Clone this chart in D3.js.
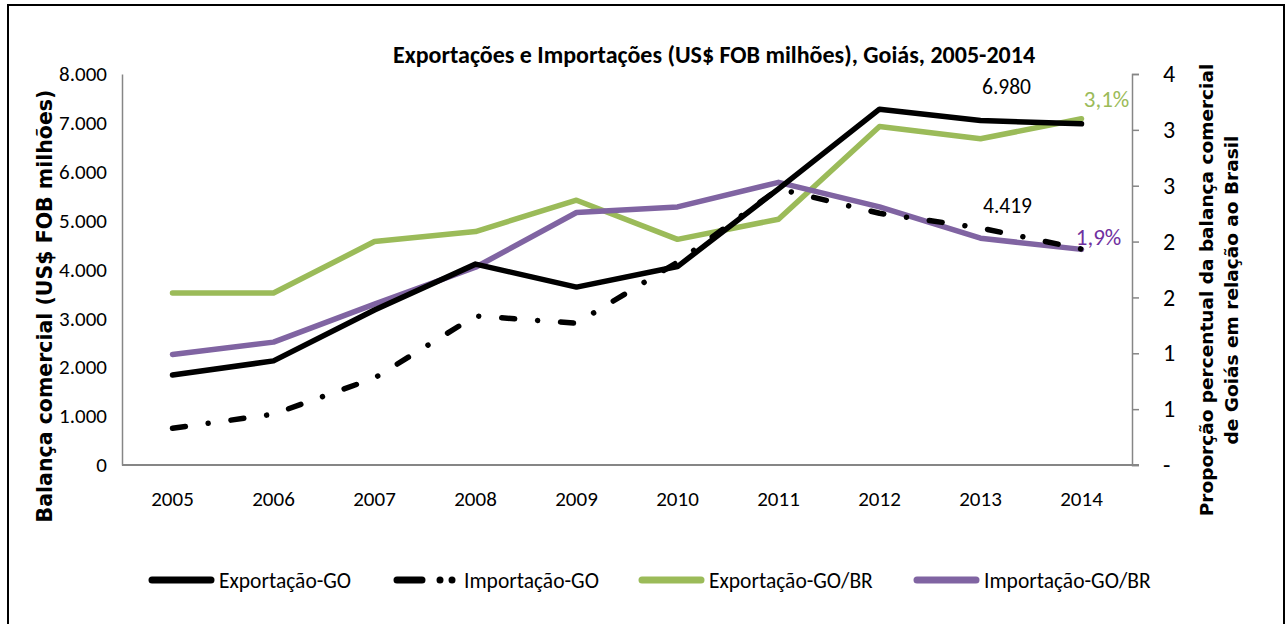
<!DOCTYPE html>
<html>
<head>
<meta charset="utf-8">
<script src="https://cdn.jsdelivr.net/npm/d3@7/dist/d3.min.js"></script>
<style>
  html, body { margin: 0; padding: 0; background: #fff; }
  svg { display: block; }
  .cal { font-family: Carlito, Lato, sans-serif; }
  .ver { font-family: "DejaVu Sans", Verdana, sans-serif; font-weight: bold; }
</style>
</head>
<body>
<svg id="chart" width="1287" height="624"></svg>
<script>
const years = ["2005","2006","2007","2008","2009","2010","2011","2012","2013","2014"];
const exportGO = [1840, 2130, 3170, 4110, 3640, 4060, 5650, 7280, 7050, 6980];
const importGO = [750, 1040, 1780, 3050, 2900, 4150, 5650, 5150, 4850, 4419];
const exportGOBR = [1.54, 1.54, 2.00, 2.09, 2.37, 2.02, 2.20, 3.03, 2.92, 3.10];
const importGOBR = [0.99, 1.10, 1.44, 1.77, 2.26, 2.31, 2.53, 2.31, 2.03, 1.93];
const leftTicks = [0, 1000, 2000, 3000, 4000, 5000, 6000, 7000, 8000];
const rightTicks = [0, 0.5, 1, 1.5, 2, 2.5, 3, 3.5];
const seriesNames = ["Exportação-GO", "Importação-GO", "Exportação-GO/BR", "Importação-GO/BR"];
const titleText = "Exportações e Importações (US$ FOB milhões), Goiás, 2005-2014";
const leftTitle = "Balança comercial (US$ FOB milhões)";
const rightTitle = ["Proporção percentual da balança comercial", "de Goiás em relação ao Brasil"];

const svg = d3.select("#chart");
const plot = { left: 122, right: 1132, top: 74, bottom: 465 };

const x = d3.scaleBand().domain(years).range([plot.left, plot.right]);
const xc = d => x(d) + x.bandwidth() / 2;
const yL = d3.scaleLinear().domain([0, 8000]).range([plot.bottom, plot.top]);
const yR = d3.scaleLinear().domain([0, 3.5]).range([plot.bottom, plot.top]);

const GREEN = "#9BBB59", PURPLE = "#8064A2", AXIS = "#868686";
const fmtPt = v => d3.format(",")(v).replace(/,/g, ".");

// outer frame (no bottom edge)
svg.append("path")
  .attr("d", "M8,624 V5 H1284 V624")
  .attr("fill", "none").attr("stroke", "#000").attr("stroke-width", 2);

// title
svg.append("text").attr("class", "cal")
  .attr("x", 714).attr("y", 63).attr("text-anchor", "middle")
  .attr("font-size", 24).attr("font-weight", "bold").text(titleText);

// left axis
const gL = svg.append("g").attr("transform", `translate(${plot.left},0)`)
  .call(d3.axisLeft(yL).tickValues(leftTicks).tickSize(0).tickPadding(15).tickFormat(fmtPt));
gL.select(".domain").attr("stroke", AXIS).attr("stroke-width", 1.5);
gL.selectAll("text").attr("class", "cal").attr("font-size", 21).attr("fill", "#000");

// right axis
const gR = svg.append("g").attr("transform", `translate(${plot.right},0)`)
  .call(d3.axisRight(yR).tickValues(rightTicks).tickSize(7).tickPadding(24)
    .tickFormat(d => d === 0 ? "-" : String(Math.round(d + 1e-9))));
gR.select(".domain").attr("stroke", AXIS).attr("stroke-width", 1.5);
gR.selectAll(".tick line").attr("stroke", AXIS).attr("stroke-width", 1.5);
gR.selectAll("text").attr("class", "cal").attr("font-size", 24).attr("fill", "#000");

// bottom axis
const gB = svg.append("g").attr("transform", `translate(0,${plot.bottom})`)
  .call(d3.axisBottom(x).tickSize(0).tickPadding(26));
gB.select(".domain").attr("stroke", AXIS).attr("stroke-width", 2)
  .attr("d", `M${plot.left},0H${plot.right + 7}`);
gB.selectAll("text").attr("class", "cal").attr("font-size", 21).attr("fill", "#000");

// axis titles
svg.append("text").attr("class", "ver")
  .attr("transform", "translate(52,306) rotate(-90)")
  .attr("text-anchor", "middle").attr("font-size", 20.5).text(leftTitle);
const rt = svg.append("text").attr("class", "ver")
  .attr("transform", "translate(1213,290) rotate(-90)")
  .attr("text-anchor", "middle").attr("font-size", 18.5);
rt.append("tspan").attr("x", 0).attr("dy", 0).text(rightTitle[0]);
rt.append("tspan").attr("x", 0).attr("dy", 25).text(rightTitle[1]);

// lines
const lineL = d3.line().x((d, i) => xc(years[i])).y(d => yL(d));
const lineR = d3.line().x((d, i) => xc(years[i])).y(d => yR(d));

svg.append("path").datum(exportGOBR).attr("d", lineR)
  .attr("fill", "none").attr("stroke", GREEN).attr("stroke-width", 5.5)
  .attr("stroke-linejoin", "round").attr("stroke-linecap", "round");
svg.append("path").datum(importGOBR).attr("d", lineR)
  .attr("fill", "none").attr("stroke", PURPLE).attr("stroke-width", 5.5)
  .attr("stroke-linejoin", "round").attr("stroke-linecap", "round");
svg.append("path").datum(exportGO).attr("d", lineL)
  .attr("fill", "none").attr("stroke", "#000").attr("stroke-width", 5.5)
  .attr("stroke-linejoin", "round").attr("stroke-linecap", "round");
svg.append("path").datum(importGO).attr("d", lineL)
  .attr("fill", "none").attr("stroke", "#000").attr("stroke-width", 5.5)
  .attr("stroke-linejoin", "round").attr("stroke-linecap", "round")
  .attr("stroke-dasharray", "13 23 0.01 23");

// data labels
svg.append("text").attr("class", "cal").attr("x", xc("2013") + 26).attr("y", yL(exportGO[9]) - 30)
  .attr("text-anchor", "middle").attr("font-size", 21.5).text(fmtPt(exportGO[9]));
svg.append("text").attr("class", "cal").attr("x", xc("2013") + 27).attr("y", yL(importGO[9]) - 36)
  .attr("text-anchor", "middle").attr("font-size", 21.5).text(fmtPt(importGO[9]));
svg.append("text").attr("class", "cal").attr("x", xc("2014") + 25).attr("y", yR(exportGOBR[9]) - 12)
  .attr("text-anchor", "middle").attr("font-size", 23).attr("fill", GREEN)
  .text(exportGOBR[9].toFixed(1).replace(".", ",") + "%");
svg.append("text").attr("class", "cal").attr("x", xc("2014") + 17).attr("y", yR(importGOBR[9]) - 4)
  .attr("text-anchor", "middle").attr("font-size", 23).attr("fill", "#7030A0")
  .text(importGOBR[9].toFixed(1).replace(".", ",") + "%");

// legend
const legend = [
  { name: seriesNames[0], x: 152, color: "#000", dash: null },
  { name: seriesNames[1], x: 397, color: "#000", dash: "25 18 0.01 12 0.01 100" },
  { name: seriesNames[2], x: 642, color: GREEN, dash: null },
  { name: seriesNames[3], x: 917, color: PURPLE, dash: null }
];
const lg = svg.append("g").attr("transform", "translate(0,580)");
legend.forEach(l => {
  const p = lg.append("path").attr("d", `M${l.x},0H${l.x + 59}`)
    .attr("stroke", l.color).attr("stroke-width", 7).attr("stroke-linecap", "round");
  if (l.dash) p.attr("stroke-dasharray", l.dash);
  lg.append("text").attr("class", "cal").attr("x", l.x + 67).attr("y", 8)
    .attr("font-size", 21.5).text(l.name);
});
</script>
</body>
</html>
